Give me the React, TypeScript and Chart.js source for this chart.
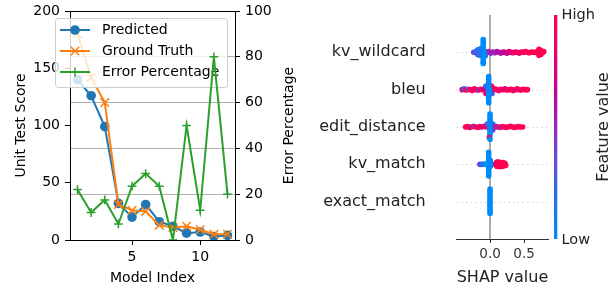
import React, { useEffect, useRef } from "react";
import { Chart, registerables } from "chart.js";
Chart.register(...registerables);

const FONT = "'DejaVu Sans', sans-serif";

// ---- Left panel data ----
const modelIndex = [1, 2, 3, 4, 5, 6, 7, 8, 9, 10, 11, 12];
const predicted = [140, 126, 99, 32, 20, 31, 16, 12, 6, 7, 3, 4];
const groundTruth = [180, 142, 120, 31, 26, 25, 13, 11, 12, 9, 5, 5];
const errorPercentage = [22, 12, 17.5, 7, 23.5, 29, 23.5, 0, 50, 13, 80, 20];
const xTicks = [5, 10];
const leftTicks = [0, 50, 100, 150, 200];
const rightTicks = [0, 20, 40, 60, 80, 100];
const seriesLabels = ["Predicted", "Ground Truth", "Error Percentage"];
const seriesColors = ["#1f77b4", "#ff7f0e", "#2ca02c"];

// ---- Right panel (SHAP) data ----
const featureNames = ["kv_wildcard", "bleu", "edit_distance", "kv_match", "exact_match"];
const shapTicks = [0, 0.5];
// each point: [shap value, feature value (0 low .. 1 high), vertical jitter in rows]
const kvWildcardPts = [
  [-0.24, 0.35, 0], [-0.21, 0.3, 0.02], [-0.18, 0.22, 0.07], [-0.18, 0.28, -0.06], [-0.15, 0.15, 0.08], [-0.15, 0.2, -0.08],
  [-0.13, 0.1, 0.1], [-0.07, 0.1, -0.09], [-0.05, 0.45, 0], [-0.02, 0.5, 0.02], [0.01, 0.52, -0.02], [0.04, 0.55, 0.01],
  [0.07, 0.5, -0.01], [0.1, 0.58, 0.02], [0.13, 0.6, 0], [0.16, 0.58, -0.02], [0.19, 0.63, 0.01], [0.22, 0.68, 0],
  [0.25, 0.66, -0.02], [0.28, 0.74, 0.02], [0.31, 0.8, 0], [0.34, 0.78, -0.01], [0.37, 0.85, 0.01], [0.4, 0.9, 0],
  [0.43, 0.86, -0.02], [0.46, 0.92, 0.01], [0.49, 0.96, 0], [0.52, 0.9, 0.02], [0.55, 1, 0], [0.58, 0.95, -0.01],
  [0.61, 1, 0.01], [0.64, 0.97, 0], [0.67, 1, 0], [0.7, 1, 0.03], [0.72, 1, 0.08], [0.72, 1, -0.08], [0.75, 1, 0.05],
  [0.75, 1, -0.05], [0.78, 1, 0], [0.79, 1, 0.02],
  [-0.1, 0, 0.34], [-0.1, 0, 0.27], [-0.1, 0, 0.2], [-0.1, 0, 0.14], [-0.1, 0, 0.08], [-0.1, 0, 0.03], [-0.1, 0, -0.03],
  [-0.1, 0, -0.08], [-0.1, 0, -0.14], [-0.1, 0, -0.2], [-0.1, 0, -0.26], [-0.1, 0, -0.3], [-0.12, 0.05, 0.05], [-0.08, 0.02, -0.04],
];
const bleuPts = [
  [-0.41, 0.9, 0], [-0.38, 0.3, 0.02], [-0.35, 1, -0.01], [-0.32, 0.4, 0.01], [-0.29, 0.95, 0], [-0.26, 1, -0.02],
  [-0.23, 0.85, 0.02], [-0.2, 0.95, 0], [-0.17, 0.5, -0.01], [-0.14, 1, 0.01], [-0.11, 0.9, 0], [-0.08, 0.6, 0.03],
  [-0.06, 0.2, 0.1], [-0.06, 0.9, -0.1], [0.02, 0.95, 0.1], [0.03, 0.3, -0.1], [0.05, 0.2, 0], [0.07, 0.9, 0.02],
  [0.1, 1, 0], [0.13, 0.8, -0.02], [0.16, 0.95, 0.01], [0.19, 1, 0], [0.22, 0.7, 0.02], [0.25, 0.95, -0.01], [0.28, 1, 0],
  [0.31, 0.85, 0.01], [0.34, 1, -0.02], [0.37, 0.75, 0], [0.4, 0.95, 0.02], [0.43, 1, 0], [0.46, 0.9, -0.01], [0.49, 1, 0.01],
  [0.52, 0.95, 0], [0.55, 1, 0],
  [-0.02, 0, 0.35], [-0.02, 0, 0.28], [-0.02, 0, 0.21], [-0.02, 0.05, 0.15], [-0.02, 0, 0.09], [-0.02, 0.1, 0.04],
  [-0.02, 0, -0.01], [-0.02, 0, -0.06], [-0.02, 0.05, -0.11], [-0.02, 0, -0.17], [-0.02, 0, -0.23], [-0.02, 0, -0.29], [-0.02, 0, -0.35],
];
const editDistancePts = [
  [-0.36, 1, 0], [-0.33, 0.95, 0.01], [-0.3, 1, -0.01], [-0.27, 0.9, 0], [-0.24, 0.45, 0.02], [-0.21, 1, 0], [-0.18, 0.95, -0.01],
  [-0.15, 1, 0.01], [-0.12, 0.6, 0], [-0.09, 1, 0.02], [-0.06, 0.9, 0], [-0.04, 0.3, 0.08], [0.04, 0.4, -0.08], [0.04, 0.2, 0.08],
  [0.06, 0.9, 0], [0.09, 0.5, 0.01], [0.12, 1, 0], [0.15, 0.45, -0.01], [0.18, 0.95, 0.01], [0.21, 1, 0], [0.24, 0.9, -0.01],
  [0.27, 1, 0], [0.3, 0.95, 0.02], [0.33, 1, 0], [0.36, 0.9, -0.01], [0.39, 1, 0], [0.42, 0.95, 0.01], [0.45, 1, 0], [0.48, 1, 0],
  [0, 0, 0.35], [0, 0, 0.28], [0, 0, 0.21], [0, 0, 0.15], [0, 0.05, 0.09], [0, 0, 0.04], [0, 0.1, -0.01], [0, 0, -0.06],
  [0, 0, -0.11], [0, 0, -0.17], [0, 0, -0.23], [-0.01, 1, -0.28], [0, 0, -0.33],
];
const kvMatchPts = [
  [-0.15, 0.4, 0], [-0.12, 0.2, 0], [-0.09, 0.05, 0.01], [-0.06, 0, 0],
  [0.07, 0.6, 0], [0.1, 1, 0.06], [0.1, 1, -0.05], [0.13, 1, 0.06], [0.13, 1, -0.06], [0.16, 1, 0.05], [0.16, 1, -0.06],
  [0.19, 1, 0.05], [0.19, 1, -0.05], [0.22, 1, 0.03], [0.23, 1, -0.03],
  [-0.02, 0, 0.32], [-0.02, 0, 0.25], [-0.02, 0, 0.18], [-0.02, 0, 0.11], [-0.02, 0, 0.05], [-0.02, 0, -0.01], [-0.02, 0, -0.07],
  [-0.02, 0, -0.13], [-0.02, 0, -0.19], [-0.02, 0, -0.25], [-0.02, 0, -0.31], [0.005, 0, 0.1], [0.005, 0, -0.05], [0.005, 0, 0.03],
];
const exactMatchPts = [
  [0, 0, 0.34], [0, 0, 0.28], [0, 0, 0.22], [0, 0, 0.16], [0, 0, 0.1], [0, 0, 0.04], [0, 0, -0.02], [0, 0, -0.08],
  [0, 0, -0.14], [0, 0, -0.2], [0, 0, -0.26], [0, 0, -0.32],
];
const featurePoints = [kvWildcardPts, bleuPts, editDistancePts, kvMatchPts, exactMatchPts];

const cmapStops: [number, number[]][] = [
  [0, [0, 139, 251]], [0.2, [40, 110, 240]], [0.35, [100, 80, 220]], [0.5, [150, 40, 190]],
  [0.65, [195, 0, 150]], [0.8, [230, 0, 115]], [1, [255, 0, 82]],
];
function cmap(t: number): string {
  for (let i = 1; i < cmapStops.length; i++) {
    const [t1, c1] = cmapStops[i];
    const [t0, c0] = cmapStops[i - 1];
    if (t <= t1) {
      const f = (t - t0) / (t1 - t0);
      const c = c0.map((v, k) => Math.round(v + (c1[k] - v) * f));
      return `rgb(${c[0]},${c[1]},${c[2]})`;
    }
  }
  return "rgb(255,0,82)";
}

function zeroPad(s: any) {
  s.paddingTop = 0;
  s.paddingBottom = 0;
  s.paddingLeft = 0;
  s.paddingRight = 0;
}

function drawMarker(ctx: CanvasRenderingContext2D, kind: number, x: number, y: number, color: string) {
  ctx.save();
  ctx.strokeStyle = color;
  ctx.fillStyle = color;
  if (kind === 0) {
    ctx.beginPath();
    ctx.arc(x, y, 4.8, 0, Math.PI * 2);
    ctx.fill();
  } else if (kind === 1) {
    const d = 4.2;
    ctx.lineWidth = 1.5;
    ctx.beginPath();
    ctx.moveTo(x - d, y - d); ctx.lineTo(x + d, y + d);
    ctx.moveTo(x - d, y + d); ctx.lineTo(x + d, y - d);
    ctx.stroke();
  } else {
    const d = 4.4;
    ctx.lineWidth = 1.5;
    ctx.beginPath();
    ctx.moveTo(x - d, y); ctx.lineTo(x + d, y);
    ctx.moveTo(x, y - d); ctx.lineTo(x, y + d);
    ctx.stroke();
  }
  ctx.restore();
}

function LineChart() {
  const ref = useRef<HTMLCanvasElement>(null);
  useEffect(() => {
    const canvas = ref.current!;
    const toXY = (ys: number[]) => modelIndex.map((x, i) => ({ x, y: ys[i] }));
    const legendPlugin = {
      id: "legendBox",
      beforeDatasetDraw(chart: any, args: any) {
        if (args.index !== 2) return;
        const { ctx, chartArea } = chart;
        const x0 = chartArea.left - 15, y0 = chartArea.top + 7, w = 172, h = 69;
        ctx.save();
        ctx.beginPath();
        ctx.roundRect(x0 + 0.5, y0 + 0.5, w, h, 3);
        ctx.fillStyle = "rgba(255,255,255,0.8)";
        ctx.fill();
        ctx.strokeStyle = "#cccccc";
        ctx.lineWidth = 1;
        ctx.stroke();
        ctx.font = `14px ${FONT}`;
        ctx.textBaseline = "middle";
        ctx.textAlign = "left";
        seriesLabels.forEach((lab, i) => {
          const yy = y0 + 12 + i * 21;
          ctx.strokeStyle = seriesColors[i];
          ctx.lineWidth = 2;
          ctx.beginPath();
          ctx.moveTo(x0 + 5, yy); ctx.lineTo(x0 + 35, yy);
          ctx.stroke();
          drawMarker(ctx, i, x0 + 20, yy, seriesColors[i]);
          ctx.fillStyle = "#000";
          ctx.fillText(lab, x0 + 47, yy);
        });
        ctx.restore();
      },
      afterDraw(chart: any) {
        const { ctx, chartArea } = chart;
        ctx.save();
        ctx.strokeStyle = "#000";
        ctx.lineWidth = 1;
        ctx.beginPath();
        ctx.moveTo(chartArea.left, Math.round(chartArea.top) + 0.5);
        ctx.lineTo(chartArea.right, Math.round(chartArea.top) + 0.5);
        ctx.stroke();
        ctx.fillStyle = "#000";
        ctx.font = `14px ${FONT}`;
        ctx.textAlign = "center";
        ctx.textBaseline = "alphabetic";
        ctx.fillText("Model Index", (chartArea.left + chartArea.right) / 2, 281.5);
        const cy = (chartArea.top + chartArea.bottom) / 2;
        ctx.save();
        ctx.translate(24.5, cy);
        ctx.rotate(-Math.PI / 2);
        ctx.fillText("Unit Test Score", 0, 0);
        ctx.restore();
        ctx.save();
        ctx.translate(chartArea.right + 58, cy);
        ctx.rotate(-Math.PI / 2);
        ctx.fillText("Error Percentage", 0, 0);
        ctx.restore();
        ctx.restore();
      },
    };
    const tickFont = { family: FONT, size: 14 };
    const chart = new Chart(canvas, {
      type: "line",
      data: {
        datasets: [
          {
            label: seriesLabels[0], data: toXY(predicted), yAxisID: "y",
            borderColor: seriesColors[0], backgroundColor: seriesColors[0], borderWidth: 2,
            pointStyle: "circle", pointRadius: 4.8, pointBorderWidth: 0, pointBackgroundColor: seriesColors[0], order: 2,
          },
          {
            label: seriesLabels[1], data: toXY(groundTruth), yAxisID: "y",
            borderColor: seriesColors[1], backgroundColor: seriesColors[1], borderWidth: 2,
            pointStyle: "crossRot", pointRadius: 6, pointBorderWidth: 1.5, order: 1,
          },
          {
            label: seriesLabels[2], data: toXY(errorPercentage), yAxisID: "y1",
            borderColor: seriesColors[2], backgroundColor: seriesColors[2], borderWidth: 2,
            pointStyle: "cross", pointRadius: 4.4, pointBorderWidth: 1.5, order: 0,
          },
        ],
      } as any,
      options: {
        responsive: false,
        animation: false,
        events: [],
        layout: { padding: { top: 11, left: 0, right: 0, bottom: 0 } },
        plugins: { legend: { display: false }, tooltip: { enabled: false } },
        elements: { line: { tension: 0 } },
        scales: {
          x: {
            type: "linear", min: 0.45, max: 12.55,
            afterBuildTicks: (s: any) => { s.ticks = xTicks.map((v) => ({ value: v })); },
            afterFit: (s: any) => { s.height = 45; zeroPad(s); },
            grid: { drawOnChartArea: false, tickLength: 5, tickColor: "#000" },
            border: { display: true, color: "#000", width: 1 },
            ticks: { font: tickFont, color: "#000", padding: 4, maxRotation: 0, autoSkip: false },
          },
          y: {
            type: "linear", position: "left", min: 0, max: 200,
            afterBuildTicks: (s: any) => { s.ticks = leftTicks.map((v) => ({ value: v })); },
            afterFit: (s: any) => { s.width = 70; zeroPad(s); },
            grid: { drawOnChartArea: false, tickLength: 5, tickColor: "#000" },
            border: { display: true, color: "#000", width: 1 },
            ticks: { font: tickFont, color: "#000", padding: 5 },
          },
          y1: {
            type: "linear", position: "right", min: 0, max: 100,
            afterBuildTicks: (s: any) => { s.ticks = rightTicks.map((v) => ({ value: v })); },
            afterFit: (s: any) => { s.width = 70; zeroPad(s); },
            grid: {
              drawOnChartArea: true, tickLength: 5, tickColor: "#000", lineWidth: 1,
              color: (c: any) => (c.tick && (c.tick.value === 0 || c.tick.value === 100) ? "rgba(0,0,0,0)" : "#b0b0b0"),
            },
            border: { display: true, color: "#000", width: 1 },
            ticks: { font: tickFont, color: "#000", padding: 5 },
          },
        },
      } as any,
      plugins: [legendPlugin],
    });
    return () => chart.destroy();
  }, []);
  return <canvas ref={ref} width={305} height={285} style={{ position: "absolute", left: 0, top: 0 }} />;
}

function ShapChart() {
  const ref = useRef<HTMLCanvasElement>(null);
  useEffect(() => {
    const canvas = ref.current!;
    const n = featureNames.length;
    const datasets = featurePoints.map((pts, i) => ({
      label: featureNames[i],
      data: pts.map((p) => ({ x: p[0], y: n - 1 - i + p[2] })),
      pointRadius: 2.8,
      pointBorderWidth: 0,
      pointBackgroundColor: pts.map((p) => cmap(p[1])),
      pointBorderColor: pts.map((p) => cmap(p[1])),
      showLine: false,
    }));
    const shapPlugin = {
      id: "shapDecor",
      beforeDatasetsDraw(chart: any) {
        const { ctx, chartArea, scales } = chart;
        ctx.save();
        ctx.strokeStyle = "#cccccc";
        ctx.lineWidth = 1;
        ctx.setLineDash([1.3, 3.4]);
        featureNames.forEach((_, i) => {
          const y = Math.round(scales.y.getPixelForValue(n - 1 - i)) + 0.5;
          ctx.beginPath();
          ctx.moveTo(chartArea.left, y);
          ctx.lineTo(chartArea.right, y);
          ctx.stroke();
        });
        ctx.setLineDash([]);
        const x0 = scales.x.getPixelForValue(0);
        ctx.strokeStyle = "#999999";
        ctx.lineWidth = 1.6;
        ctx.beginPath();
        ctx.moveTo(x0, chartArea.top);
        ctx.lineTo(x0, chartArea.bottom);
        ctx.stroke();
        ctx.restore();
      },
      afterDraw(chart: any) {
        const { ctx, chartArea } = chart;
        ctx.save();
        const cbx = chartArea.right + 5.7, cbw = 3.3;
        const g = ctx.createLinearGradient(0, chartArea.bottom, 0, chartArea.top);
        cmapStops.forEach(([t]) => g.addColorStop(t, cmap(t)));
        ctx.fillStyle = g;
        ctx.fillRect(cbx, chartArea.top, cbw, chartArea.bottom - chartArea.top);
        ctx.fillStyle = "#222";
        ctx.font = `14.5px ${FONT}`;
        ctx.textAlign = "left";
        ctx.textBaseline = "middle";
        ctx.fillText("High", cbx + 7.5, chartArea.top);
        ctx.fillText("Low", cbx + 7.5, chartArea.bottom + 1);
        ctx.font = `16px ${FONT}`;
        ctx.textAlign = "center";
        ctx.textBaseline = "alphabetic";
        ctx.save();
        ctx.translate(chartArea.right + 59.5, (chartArea.top + chartArea.bottom) / 2);
        ctx.rotate(-Math.PI / 2);
        ctx.fillText("Feature value", 0, 0);
        ctx.restore();
        ctx.fillText("SHAP value", (chartArea.left + chartArea.right) / 2, 281.5);
        ctx.restore();
      },
    };
    const chart = new Chart(canvas, {
      type: "scatter",
      data: { datasets } as any,
      options: {
        responsive: false,
        animation: false,
        events: [],
        layout: { padding: { top: 15, right: 64.7, left: 0, bottom: 0 } },
        plugins: { legend: { display: false }, tooltip: { enabled: false } },
        scales: {
          x: {
            type: "linear", min: -0.49, max: 0.857,
            afterBuildTicks: (s: any) => { s.ticks = shapTicks.map((v) => ({ value: v })); },
            afterFit: (s: any) => { s.height = 46; zeroPad(s); },
            grid: { drawOnChartArea: false, tickLength: 4, tickColor: "#333" },
            border: { display: true, color: "#333", width: 1 },
            ticks: {
              font: { family: FONT, size: 13.5 }, color: "#333", padding: 3, maxRotation: 0, autoSkip: false,
              callback: (v: any) => Number(v).toFixed(1),
            },
          },
          y: {
            type: "linear", min: -1, max: 5,
            afterBuildTicks: (s: any) => { s.ticks = featureNames.map((_, i) => ({ value: i })); },
            afterFit: (s: any) => { s.width = 151.7; zeroPad(s); },
            grid: { display: false, drawTicks: false },
            border: { display: false },
            ticks: {
              font: { family: FONT, size: 16 }, color: "#222", padding: 31, autoSkip: false,
              callback: (v: any) => featureNames[n - 1 - Number(v)],
            },
          },
        },
      } as any,
      plugins: [shapPlugin],
    });
    return () => chart.destroy();
  }, []);
  return <canvas ref={ref} width={308} height={285} style={{ position: "absolute", left: 305, top: 0 }} />;
}

export default function App() {
  return (
    <div style={{ position: "absolute", left: 0, top: 0, width: 613, height: 285, overflow: "hidden", background: "#fff" }}>
      <LineChart />
      <ShapChart />
    </div>
  );
}
